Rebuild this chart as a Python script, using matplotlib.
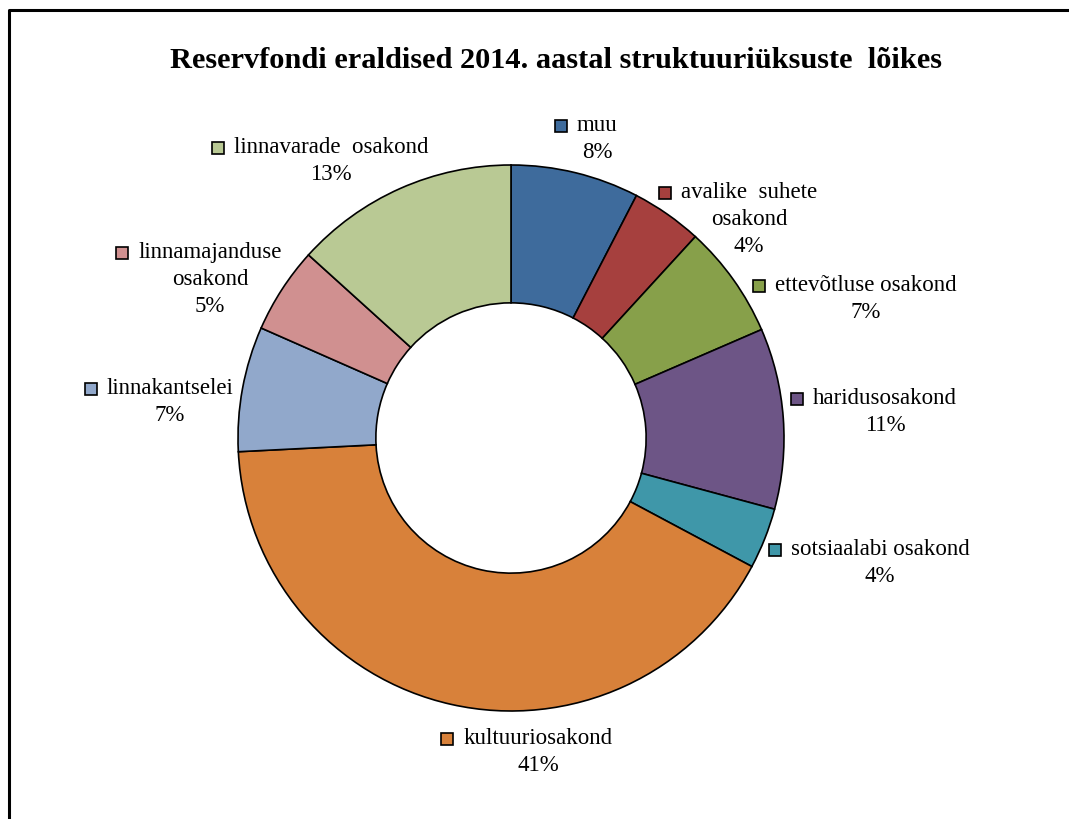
import matplotlib
matplotlib.use("Agg")
import matplotlib.pyplot as plt
from matplotlib.patches import Rectangle
import numpy as np

plt.rcParams['font.family'] = ['Liberation Serif', 'DejaVu Serif']

# andmed (protsendid, loetud jooniselt)
osakonnad = ["muu", "avalike  suhete\nosakond", "ettevõtluse osakond", "haridusosakond",
             "sotsiaalabi osakond", "kultuuriosakond", "linnakantselei",
             "linnamajanduse\nosakond", "linnavarade  osakond"]
osakaal = [7.6, 4.2, 6.7, 10.7, 3.6, 41.4, 7.4, 5.1, 13.3]
varvid = ['#3E6B9C', '#A6403E', '#87A04A', '#6D5586', '#3F97A9',
          '#D8813A', '#91A8CB', '#D09090', '#B9C994']

# siltide asukoht keskpunkti suhtes (raadiuse ühikutes)
sildi_nihe = [(0.315, 1.100), (0.872, 0.805), (1.300, 0.512), (1.370, 0.100),
              (1.352, -0.455), (0.099, -1.146), (-1.249, 0.135), (-1.103, 0.585),
              (-0.659, 1.017)]

W, H = 1069, 820
fig = plt.figure(figsize=(W / 100, H / 100), dpi=100)
ax = fig.add_axes([0, 0, 1, 1])

cx, cy, R = 511, H - 439, 273

ax.pie(osakaal, colors=varvid, startangle=90, counterclock=False, center=(cx, cy),
       radius=R, wedgeprops=dict(width=R * 0.505, edgecolor='black', linewidth=1.2),
       frame=True)
ax.set_xlim(0, W)
ax.set_ylim(0, H)
ax.set_aspect('equal')
ax.axis('off')

ax.text(556, H - 60, "Reservfondi eraldised 2014. aastal struktuuriüksuste  lõikes",
        ha='center', va='center', fontsize=21.9, fontweight='bold')

fs = 16.5
tekstid = []
for nimi, v, (dx, dy) in zip(osakonnad, osakaal, sildi_nihe):
    s = nimi + "\n" + "%d%%" % round(v)
    t = ax.text(cx + dx * R, cy + dy * R, s, ha='center', va='center',
                multialignment='center', linespacing=1.38, fontsize=fs)
    tekstid.append(t)

fig.canvas.draw()
rend = fig.canvas.get_renderer()
for t, nimi, c in zip(tekstid, osakonnad, varvid):
    bb = t.get_window_extent(rend)
    rida1 = nimi.split("\n")[0]
    tmp = ax.text(0, 0, rida1, fontsize=fs)
    w1 = tmp.get_window_extent(rend).width
    tmp.remove()
    nread = len(t.get_text().split("\n"))
    lh = bb.height / nread
    x0 = (bb.x0 + bb.x1) / 2 - w1 / 2
    ky = bb.y1 - lh * 0.5
    ax.add_patch(Rectangle((x0 - 22, ky - 6), 12, 12, facecolor=c,
                           edgecolor='black', linewidth=1.2, clip_on=False))

# raam
ax.plot([9, 9, W], [0, H - 11, H - 11], color='black', linewidth=2.2, clip_on=False)

fig.savefig("out.png", dpi=100)
